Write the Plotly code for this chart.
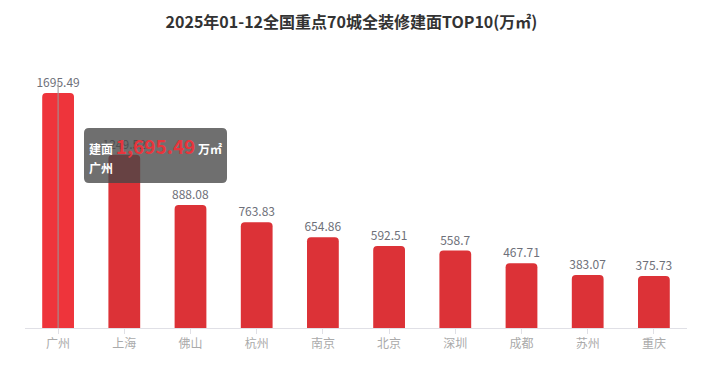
import plotly.graph_objects as go

cities = ["广州", "上海", "佛山", "杭州", "南京", "北京", "深圳", "成都", "苏州", "重庆"]
values = [1695.49, 1249.52, 888.08, 763.83, 654.86, 592.51, 558.7, 467.71, 383.07, 375.73]
title_text = "2025年01-12全国重点70城全装修建面TOP10(万㎡)"
series_name = "建面"
unit = "万㎡"
hover_idx = 0

W, H = 703, 375
ML, MR, MT, MB = 25, 16, 83, 47
PW, PH = W - ML - MR, H - MT - MB

def px(x):
    return (x - ML) / PW

def py(y):
    return (H - MB - y) / PH

font_family = "Noto Sans CJK SC, Noto Sans, sans-serif"
colors = ["#ee343b" if i == hover_idx else "#dc3237" for i in range(len(cities))]

fig = go.Figure()
fig.add_trace(go.Bar(
    x=cities, y=values,
    marker=dict(color=colors, cornerradius=4, line=dict(width=0)),
    width=0.48,
    text=[f"{v:g}" for v in values],
    textposition="outside",
    constraintext="none",
    cliponaxis=False,
    textfont=dict(color="#6e7079", size=12, family=font_family),
    hoverinfo="skip",
))

# axis pointer line
fig.add_shape(type="line", xref="x", yref="paper", x0=cities[hover_idx], x1=cities[hover_idx],
              y0=0, y1=1, line=dict(color="#999999", width=1))

# tooltip box (rounded)
x0, x1, y0, y1, r = 84, 227, 128, 183, 5
path = (f"M {px(x0+r)},{py(y0)} L {px(x1-r)},{py(y0)} Q {px(x1)},{py(y0)} {px(x1)},{py(y0+r)} "
        f"L {px(x1)},{py(y1-r)} Q {px(x1)},{py(y1)} {px(x1-r)},{py(y1)} "
        f"L {px(x0+r)},{py(y1)} Q {px(x0)},{py(y1)} {px(x0)},{py(y1-r)} "
        f"L {px(x0)},{py(y0+r)} Q {px(x0)},{py(y0)} {px(x0+r)},{py(y0)} Z")
fig.add_shape(type="path", xref="paper", yref="paper", path=path,
              fillcolor="rgba(70,70,70,0.78)", line=dict(width=0), layer="above")

v = values[hover_idx]
fig.add_annotation(
    xref="paper", yref="paper", x=px(87), y=py(145), xanchor="left", yanchor="middle",
    showarrow=False,
    text=(f"<b>{series_name}</b> <b><span style='font-size:19px;color:#e8353c'>{v:,.2f}</span></b> "
          f"<b>{unit}</b>"),
    font=dict(color="#ffffff", size=12, family=font_family),
)
fig.add_annotation(
    xref="paper", yref="paper", x=px(87), y=py(167), xanchor="left", yanchor="middle",
    showarrow=False, text=f"<b>{cities[hover_idx]}</b>",
    font=dict(color="#ffffff", size=12, family=font_family),
)

fig.update_layout(
    width=W, height=H,
    margin=dict(l=ML, r=MR, t=MT, b=MB),
    paper_bgcolor="white", plot_bgcolor="white",
    title=dict(text=f"<b>{title_text}</b>", x=0.5, xanchor="center", y=1 - 22 / H, yanchor="middle",
               font=dict(size=16, color="#333333", family=font_family)),
    showlegend=False,
    bargap=0.52,
    xaxis=dict(showline=True, linecolor="#e0e0e6", linewidth=1, ticks="outside", ticklen=5,
               tickcolor="#e0e0e6", tickfont=dict(color="#aaaaaa", size=12, family=font_family),
               showgrid=False, zeroline=False, range=[-0.5, 9.5], fixedrange=True),
    yaxis=dict(visible=False, range=[0, 1768], showgrid=False, zeroline=False, fixedrange=True),
)

fig.write_html("out.html", config={"displayModeBar": False},
               post_script="document.body.style.margin='0';document.body.style.padding='0';")
